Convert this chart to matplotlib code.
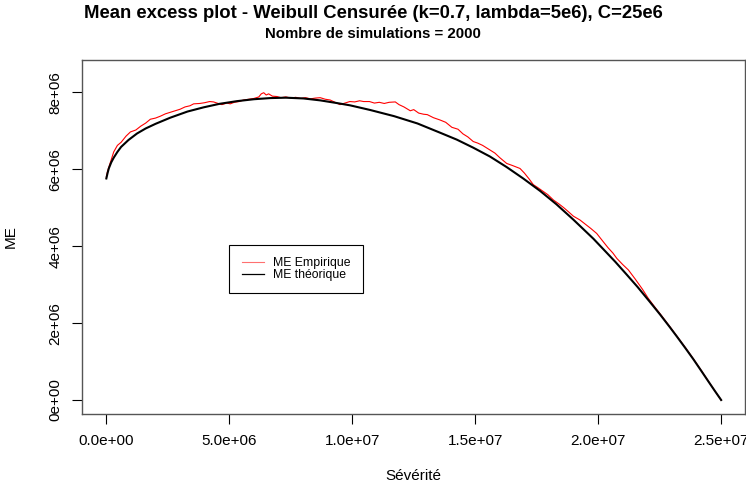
import matplotlib
matplotlib.use("Agg")
import matplotlib.pyplot as plt
import numpy as np

plt.rcParams['font.family'] = ['Liberation Sans', 'DejaVu Sans']

# theoretical mean excess (x and y in units of 1e6)
x_theo = [0, 0.05, 0.1, 0.2, 0.3, 0.45, 0.6, 0.9, 1.25, 1.6, 2.0, 2.6, 3.3, 3.96,
          4.6, 5.31, 6.0, 6.67, 7.3, 8.02, 8.7, 9.38, 9.92, 10.73, 11.7, 12.65,
          13.57, 14.25, 14.92, 15.6, 16.28, 16.95, 17.64, 18.3, 18.99, 19.4, 19.81,
          20.3, 20.7, 21.16, 21.6, 22.09, 22.52, 22.9, 23.2, 23.55, 23.87, 24.2,
          24.5, 24.75, 25.0]
me_theo = [5.76, 5.90, 6.02, 6.18, 6.30, 6.45, 6.58, 6.76, 6.93, 7.06, 7.18, 7.34,
           7.50, 7.61, 7.70, 7.77, 7.82, 7.85, 7.86, 7.84, 7.79, 7.72, 7.66, 7.54,
           7.38, 7.19, 6.95, 6.77, 6.56, 6.33, 6.055, 5.76, 5.435, 5.09, 4.69, 4.44,
           4.19, 3.86, 3.59, 3.26, 2.94, 2.56, 2.22, 1.905, 1.65, 1.345, 1.06, 0.75,
           0.465, 0.23, 0.0]

x_emp = [0.0, 0.05, 0.15, 0.3, 0.45, 0.6, 0.8, 0.98, 1.2, 1.4, 1.6, 1.79, 2.0, 2.2,
         2.4, 2.6, 2.8, 3.0, 3.2, 3.4, 3.55, 3.8, 4.0, 4.2, 4.36, 4.5, 4.7, 4.9,
         5.04, 5.2, 5.4, 5.58, 5.8, 6.0, 6.2, 6.3, 6.4, 6.5, 6.6, 6.75, 6.94, 7.1,
         7.3, 7.5, 7.7, 7.9, 8.1, 8.3, 8.5, 8.7, 8.9, 9.1, 9.3, 9.5, 9.7, 9.9, 10.1,
         10.3, 10.46, 10.7, 10.9, 11.1, 11.3, 11.5, 11.75, 11.9, 12.1, 12.36, 12.5,
         12.7, 12.9, 13.05, 13.3, 13.57, 13.8, 14.05, 14.3, 14.5, 14.7, 14.92, 15.1,
         15.3, 15.6, 15.8, 16.0, 16.28, 16.5, 16.82, 17.0, 17.2, 17.36, 17.55,
         17.77, 17.95, 18.18, 18.4, 18.6, 18.8, 18.99, 19.26, 19.5, 19.7, 19.94,
         20.15, 20.4, 20.6, 20.76, 21.0, 21.23, 21.5, 21.8, 22.04, 22.3, 22.52,
         22.9, 23.2, 23.55, 23.87, 24.2, 24.5, 24.75, 25.0]
me_emp = [5.80, 5.95, 6.15, 6.45, 6.62, 6.70, 6.86, 6.97, 7.02, 7.12, 7.20, 7.30,
          7.33, 7.38, 7.44, 7.48, 7.52, 7.56, 7.62, 7.65, 7.70, 7.71, 7.73, 7.76,
          7.75, 7.72, 7.68, 7.72, 7.70, 7.74, 7.76, 7.80, 7.82, 7.84, 7.88, 7.96,
          7.99, 7.93, 7.96, 7.90, 7.89, 7.86, 7.88, 7.85, 7.87, 7.84, 7.86, 7.83,
          7.85, 7.86, 7.82, 7.80, 7.74, 7.68, 7.72, 7.76, 7.75, 7.78, 7.76, 7.76,
          7.72, 7.74, 7.71, 7.74, 7.75, 7.68, 7.62, 7.52, 7.55, 7.46, 7.43, 7.42,
          7.34, 7.28, 7.22, 7.09, 7.04, 6.92, 6.84, 6.72, 6.68, 6.62, 6.50, 6.42,
          6.30, 6.15, 6.10, 6.02, 5.90, 5.74, 5.60, 5.52, 5.42, 5.34, 5.20, 5.10,
          5.00, 4.89, 4.78, 4.68, 4.56, 4.46, 4.33, 4.16, 3.96, 3.82, 3.68, 3.52,
          3.38, 3.15, 2.88, 2.64, 2.42, 2.24, 1.92, 1.66, 1.36, 1.07, 0.76, 0.47,
          0.23, 0.0]

xticks = [0, 5e6, 1e7, 1.5e7, 2e7, 2.5e7]
xtick_labels = ["0.0e+00", "5.0e+06", "1.0e+07", "1.5e+07", "2.0e+07", "2.5e+07"]
yticks = [0, 2e6, 4e6, 6e6, 8e6]
ytick_labels = ["0e+00", "2e+06", "4e+06", "6e+06", "8e+06"]

W, H = 746, 490
fig = plt.figure(figsize=(W / 100, H / 100), dpi=100)
ax = fig.add_axes([81.5 / W, 1 - 413.5 / H, (745 - 81.5) / W, (413.5 - 60) / H])

ax.plot(np.array(x_emp) * 1e6, np.array(me_emp) * 1e6, color="red", lw=0.8,
        label="ME Empirique")
ax.plot(np.array(x_theo) * 1e6, np.array(me_theo) * 1e6, color="black", lw=1.5,
        label="ME théorique")

ax.set_xlim(-1.01e6, 25.97e6)
ax.set_ylim(-0.351e6, 8.84e6)
ax.set_xticks(xticks)
ax.set_xticklabels(xtick_labels)
ax.set_yticks(yticks)
ax.set_yticklabels(ytick_labels, rotation=90, va="center")
ax.tick_params(axis="both", direction="out", length=7, width=0.8, labelsize=11)
ax.tick_params(axis="x", pad=8)
ax.tick_params(axis="y", pad=6.5)
for s in ax.spines.values():
    s.set_color("#555555")
    s.set_linewidth(1.0)

ax.set_xlabel("Sévérité", fontsize=11)
ax.set_ylabel("ME", fontsize=11)
ax.xaxis.set_label_coords(0.5, (413.5 - 469) / 353.5)
ax.yaxis.set_label_coords((18 - 81.5) / 663.5, 0.5)

fig.text(0.5, 1 - 13.5 / H, "Mean excess plot - Weibull Censurée (k=0.7, lambda=5e6), C=25e6",
         ha="center", va="center", fontsize=13.3, fontweight="bold")
fig.text(0.5, 1 - 33.5 / H, "Nombre de simulations = 2000",
         ha="center", va="center", fontsize=10.8, fontweight="bold")

leg = ax.legend(loc="upper left", bbox_to_anchor=(229.3 / W, 1 - 245 / H),
                bbox_transform=fig.transFigure, fontsize=8.8, frameon=True,
                fancybox=False, edgecolor="black", framealpha=1,
                handlelength=1.8, handletextpad=0.8, borderpad=1.0,
                labelspacing=0.0, borderaxespad=0)
leg.get_frame().set_linewidth(0.8)
leg.get_lines()[0].set_color("#ff7070")
leg.get_lines()[1].set_linewidth(0.9)

fig.savefig("out.png", dpi=100)
